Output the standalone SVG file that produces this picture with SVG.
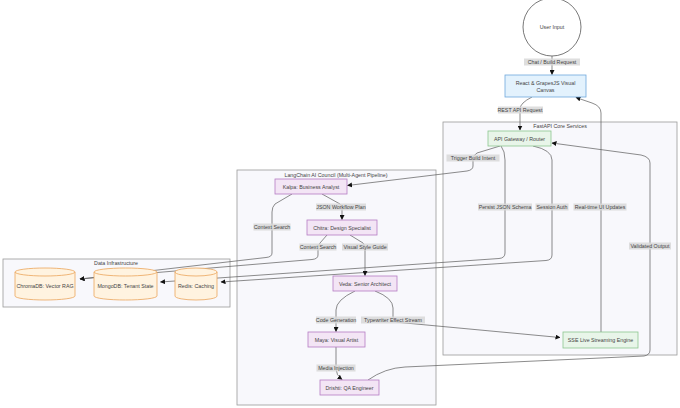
<svg xmlns="http://www.w3.org/2000/svg" width="680" height="408" viewBox="0 0 680 408">
<style>
text{font-family:"Liberation Sans","Open Sans",sans-serif;font-size:5.3px;fill:#444;text-anchor:middle;dominant-baseline:central}
.cl{fill:#f8f8fc;stroke:#999;stroke-width:0.8}
.ui{fill:#e3f2fd;stroke:#6fa8dc;stroke-width:0.8}
.core{fill:#e8f5e9;stroke:#8cc68f;stroke-width:0.8}
.ag{fill:#f3e5f5;stroke:#b57cc4;stroke-width:0.8}
.db{fill:#fff3e0;stroke:#eba45a;stroke-width:0.8}
.e{fill:none;stroke:#5a5a5a;stroke-width:0.7}
.lb{fill:#d8d8d8;opacity:0.85}
</style>
<defs>
<marker id="ah" markerUnits="userSpaceOnUse" markerWidth="5" markerHeight="5" refX="4.5" refY="2.5" orient="auto"><path d="M0,0 L5,2.5 L0,5 z" fill="#111"/></marker>
</defs>
<rect width="680" height="408" fill="#ffffff"/>
<g id="clusters">
<rect class="cl" x="443" y="122" width="234" height="233"/>
<text x="560" y="126">FastAPI Core Services</text>
<rect class="cl" x="237" y="170" width="199" height="235"/>
<text x="336" y="174.5">LangChain AI Council (Multi-Agent Pipeline)</text>
<rect class="cl" x="3" y="259" width="227" height="48"/>
<text x="116" y="263">Data Infrastructure</text>
</g>
<g id="connectors">
<path class="e" d="M552,56 L552,74.5" marker-end="url(#ah)"/>
<path class="e" d="M532,97 Q520,103 520,109 L520,130" marker-end="url(#ah)"/>
<path class="e" d="M500,146 L477,153 Q473,155 473,160 L473,166 Q473,170 467,171 L347.5,185.5" marker-end="url(#ah)"/>
<path class="e" d="M501,146 Q505,151 505,160 L505,253 Q505,258 499,258.5 L160.5,282" marker-end="url(#ah)"/>
<path class="e" d="M533,146 Q552,150 552,160 L552,255 Q552,260 546,260.5 L221,282" marker-end="url(#ah)"/>
<path class="e" d="M601,332 L601,113 Q601,106 592,103 L576,97.5" marker-end="url(#ah)"/>
<path class="e" d="M368,380 Q385,368 405,367 L644,356 Q650,355 650,350 L650,163 Q650,157 641,155 L552,143" marker-end="url(#ah)"/>
<path class="e" d="M375,291 Q393,298 393,308 L393,317 Q393,322 400,322.5 L560,337.5" marker-end="url(#ah)"/>
<path class="e" d="M355,291 Q336,300 336,310 L336,331.5" marker-end="url(#ah)"/>
<path class="e" d="M336,347 L336,369 Q336,375 342,379.5" marker-end="url(#ah)"/>
<path class="e" d="M322,194 L340,204 Q342,206 342,209 L342,219.5" marker-end="url(#ah)"/>
<path class="e" d="M350,235 L363,243 Q365,245 365,249 L365,275.5" marker-end="url(#ah)"/>
<path class="e" d="M292,194 L275,204 Q272,207 272,212 L272,253 Q272,257 266,257.5 L80,279" marker-end="url(#ah)"/>
<path class="e" d="M327,235 L320,243 Q318,245 318,250 L318,255 Q318,259 312,259.5 L80,279" marker-end="url(#ah)"/>
</g>
<g id="edge-labels">
<rect class="lb" x="524" y="58.5" width="56" height="7"/><text x="552" y="62">Chat / Build Request</text>
<rect class="lb" x="498" y="106.5" width="45" height="7"/><text x="520" y="110">REST API Request</text>
<rect class="lb" x="446.5" y="154.5" width="53" height="7"/><text x="473" y="158">Trigger Build Intent</text>
<rect class="lb" x="478" y="203.5" width="54" height="7"/><text x="505" y="207">Persist JSON Schema</text>
<rect class="lb" x="535.5" y="203.5" width="33" height="7"/><text x="552" y="207">Session Auth</text>
<rect class="lb" x="573.5" y="203.5" width="53" height="7"/><text x="600" y="207">Real-time UI Updates</text>
<rect class="lb" x="629" y="242.5" width="42" height="7"/><text x="650" y="246">Validated Output</text>
<rect class="lb" x="316" y="203.5" width="50" height="7"/><text x="341" y="207">JSON Workflow Plan</text>
<rect class="lb" x="253.5" y="223.5" width="37" height="7"/><text x="272" y="227">Context Search</text>
<rect class="lb" x="299.5" y="243.5" width="37" height="7"/><text x="318" y="247">Context Search</text>
<rect class="lb" x="342" y="243.5" width="46" height="7"/><text x="365" y="247">Visual Style Guide</text>
<rect class="lb" x="316" y="316.5" width="40" height="7"/><text x="336" y="320">Code Generation</text>
<rect class="lb" x="361" y="316.5" width="64" height="7"/><text x="393" y="320">Typewriter Effect Stream</text>
<rect class="lb" x="316.5" y="364.5" width="39" height="7"/><text x="336" y="368">Media Injection</text>
</g>
<g id="user-input"><circle cx="552" cy="27" r="29" fill="#fff" stroke="#555" stroke-width="0.8"/><text x="552" y="27">User Input</text></g>
<g id="react-canvas"><rect class="ui" x="505" y="75" width="81" height="22"/><text x="545.5" y="82.5">React &amp; GrapesJS Visual</text><text x="545.5" y="90">Canvas</text></g>
<g id="api-gateway"><rect class="core" x="488" y="131" width="63" height="15"/><text x="519.5" y="138.5">API Gateway / Router</text></g>
<g id="sse-engine"><rect class="core" x="563" y="332" width="75" height="16"/><text x="600.5" y="340">SSE Live Streaming Engine</text></g>
<g id="kalpa"><rect class="ag" x="275" y="179" width="72" height="15"/><text x="311" y="186.5">Kalpa: Business Analyst</text></g>
<g id="chitra"><rect class="ag" x="307" y="220" width="70" height="15"/><text x="342" y="227.5">Chitra: Design Specialist</text></g>
<g id="veda"><rect class="ag" x="333" y="276" width="64" height="15"/><text x="365" y="283.5">Veda: Senior Architect</text></g>
<g id="maya"><rect class="ag" x="308" y="332" width="57" height="15"/><text x="336.5" y="339.5">Maya: Visual Artist</text></g>
<g id="drishti"><rect class="ag" x="320" y="380" width="59" height="15"/><text x="349.5" y="387.5">Drishti: QA Engineer</text></g>
<g id="chromadb"><path class="db" d="M15,272 a30,4 0 0,0 60,0 a30,4 0 0,0 -60,0 l0,24 a30,4 0 0,0 60,0 l0,-24"/><text x="45" y="286">ChromaDB: Vector RAG</text></g>
<g id="mongodb"><path class="db" d="M94,272 a31.5,4 0 0,0 63,0 a31.5,4 0 0,0 -63,0 l0,24 a31.5,4 0 0,0 63,0 l0,-24"/><text x="125.5" y="286">MongoDB: Tenant State</text></g>
<g id="redis"><path class="db" d="M175,272 a21,4 0 0,0 42,0 a21,4 0 0,0 -42,0 l0,24 a21,4 0 0,0 42,0 l0,-24"/><text x="196" y="286">Redis: Caching</text></g>
</svg>
